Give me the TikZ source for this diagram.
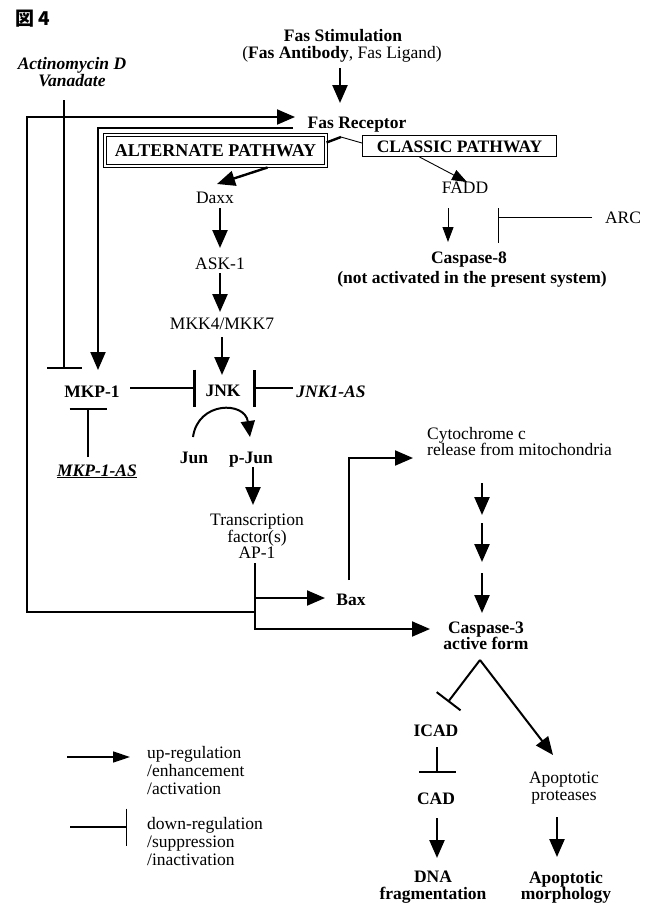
\documentclass[tikz,border=0pt]{standalone}
\usepackage{fontspec}
\setmainfont{Liberation Serif}
\newfontfamily\cjk{Noto Sans CJK JP}
\usetikzlibrary{arrows.meta,calc}
\setlength{\lineskiplimit}{-100pt}
\begin{document}
\begin{tikzpicture}[x=1pt,y=-1pt,
  txt/.style={inner sep=0pt, text height=12pt, text depth=0pt, font=\fontsize{17.5}{16}\selectfont},
  txtb/.style={txt, font=\fontsize{17.5}{16}\selectfont\bfseries},
  txtbi/.style={txt, font=\fontsize{17.5}{16}\selectfont\bfseries\itshape},
  ml/.style={inner sep=0pt, align=center, anchor=north, font=\fontsize{17.5}{16.5}\selectfont},
  mlb/.style={ml, font=\fontsize{17.5}{16.5}\selectfont\bfseries},
  legtxt/.style={inner sep=0pt, align=left, anchor=north west, font=\fontsize{17.5}{18}\selectfont},
  boxalt/.style={draw, double, double distance=1.4pt, line width=1.1pt, inner sep=0pt,
     minimum width=221pt, minimum height=31pt, text height=12pt, text depth=0pt,
     font=\fontsize{18}{16}\selectfont\bfseries},
  boxcl/.style={draw, line width=1.2pt, inner sep=0pt,
     minimum width=194pt, minimum height=21pt, text height=12pt, text depth=0pt,
     font=\fontsize{17.5}{16}\selectfont\bfseries},
  actarr/.style={line width=2.4pt, -{Triangle[length=18pt,width=15pt]}},
  fbarr/.style={line width=2pt, -{Triangle[length=18pt,width=15pt]}},
  inharr/.style={line width=2.4pt, -{Bar[width=37pt]}},
  thinline/.style={line width=0.9pt},
  thinarr/.style={line width=0.9pt, -{Triangle[length=15pt,width=11pt]}},
]
\fill[white] (0,0) rectangle (654,903);
\useasboundingbox (0,0) rectangle (654,903);

% ---------- nodes ----------
\node[inner sep=0pt, font=\cjk\bfseries\fontsize{19}{19}\selectfont] (fig) at (33,19) {図 4};
\node[txtb] (stim) at (343,35) {Fas Stimulation};
\node[txt] (lig) at (342,52) {(\textbf{Fas Antibody}, Fas Ligand)};
\node[ml, font=\fontsize{17.5}{17}\selectfont\bfseries\itshape] (actd) at (72,57) {Actinomycin D\\Vanadate};
\node[txtb] (fasrec) at (357,122) {Fas Receptor};
\node[boxalt] (alt) at (215.5,150.5) {ALTERNATE PATHWAY};
\node[boxcl] (classic) at (459.5,146) {CLASSIC PATHWAY};
\node[txt] (daxx) at (215,197) {Daxx};
\node[txt] (ask) at (220,263) {ASK-1};
\node[txt] (mkk) at (222,323) {MKK4/MKK7};
\node[txtb] (jnk) at (223,390) {JNK};
\node[txtb] (mkp) at (92,391) {MKP-1};
\node[txtbi] (jnkas) at (331,391) {JNK1-AS};
\node[txtbi] (mkpas) at (97,470) {\underline{MKP-1-AS}};
\node[txtb] (jun) at (194,457) {Jun};
\node[txtb] (pjun) at (251,457) {p-Jun};
\node[ml] (tf) at (257,514) {Transcription\\factor(s)\\AP-1};
\node[ml, anchor=north west, align=left, font=\fontsize{17.5}{16}\selectfont] (cyto) at (427,427) {Cytochrome c\\release from mitochondria};
\node[txtb] (bax) at (351,599) {Bax};
\node[mlb, font=\fontsize{17.5}{16}\selectfont\bfseries] (casp3) at (486,622) {Caspase-3\\active form};
\node[txtb] (icad) at (436,730) {ICAD};
\node[txtb] (cad) at (436,798) {CAD};
\node[ml, font=\fontsize{17.5}{17}\selectfont] (aprot) at (564,772) {Apoptotic\\proteases};
\node[mlb] (dna) at (433,871) {DNA\\fragmentation};
\node[mlb] (amorph) at (566,871) {Apoptotic\\morphology};
\node[txt] (fadd) at (465,187) {FADD};
\node[txtb] (casp8) at (469,257) {Caspase-8};
\node[txtb] (notact) at (472,277) {(not activated in the present system)};
\node[txt] (arc) at (623,217) {ARC};
\node[legtxt] (lup) at (147,746) {up-regulation\\/enhancement\\/activation};
\node[legtxt] (ldown) at (147,817) {down-regulation\\/suppression\\/inactivation};

% ---------- coordinates ----------
\coordinate (br) at ($(fasrec)+(-16,15)$);
\coordinate (apex) at ($(casp3.north)+(-6,38)$);
\coordinate (k1) at (482,519);
\coordinate (k2) at (482,567.5);
\coordinate (legA) at ($(lup.north west)+(-80,11)$);
\coordinate (legB) at ($(lup.north west)+(-17,11)$);
\coordinate (legC) at ($(ldown.north west)+(-77,10)$);
\coordinate (legD) at ($(ldown.north west)+(-20,10)$);

% ---------- connectors ----------
\draw[actarr] ($(lig)+(-2,16)$) -- ($(fasrec)+(-17,-19)$);
% Fas receptor branches
\draw[line width=2.4pt] (br) -- ($(alt.east)+(0,-8)$);
\draw[thinline] (br) -- ($(classic.west)+(0,-3)$);
\draw[actarr] ($(alt)+(52,17)$) -- ($(daxx)+(2,-13)$);
\draw[thinarr] ($(classic)+(-40,11)$) -- ($(fadd)+(2,-5)$);
% alternate pathway chain
\draw[actarr] ($(daxx)+(5,11)$) -- ($(ask)+(0,-15)$);
\draw[actarr] ($(ask)+(0,10)$) -- ($(mkk)+(-2,-11)$);
\draw[actarr] ($(mkk)+(0,14)$) -- ($(jnk)+(-1,-15)$);
\draw[line width=2pt, -{Bar[width=37pt,line width=2.8pt]}] ($(mkp)+(38,-3)$) -- ($(jnk)+(-27,-2)$);
\draw[line width=2pt, -{Bar[width=37pt,line width=2.8pt]}] ($(jnkas)+(-38,-3)$) -- ($(jnk)+(30,-2)$);
\draw[inharr] ($(mkpas)+(-9,-13)$) -- ($(mkp)+(-4,17)$);
\draw[line width=2pt, -{Triangle[length=16pt,width=14pt]}] ($(jun)+(-1,-20)$) .. controls (198,401) and (245,401) .. ($(pjun)+(-1,-20)$);
\draw[actarr] ($(pjun)+(2,10)$) -- ($(tf.north)+(-4,-9)$);
% feedback loops
\draw[line width=2pt, -{Bar[width=35pt]}] ($(actd.north)+(-8,43)$) -- ($(mkp)+(-28,-22)$);
\draw[fbarr] ($(fasrec)+(-64,6)$) -| ($(mkp)+(6,-21)$);
\draw[fbarr] ($(tf.north)+(-2,98)$) -- ++(-228,0) |- ($(fasrec)+(-62,-5)$);
\draw[fbarr] ($(tf.north)+(-2,49)$) |- ($(casp3.north)+(-56,7)$);
\draw[fbarr] ($(tf.north)+(-2,84)$) -- ($(bax)+(-26,-1)$);
\draw[fbarr] ($(bax)+(-2,-19)$) |- ($(cyto.north west)+(-14,31)$);
% mitochondrial route
\draw[actarr] ($(cyto.north west)+(55,56)$) -- ($(k1)+(0,-4)$);
\draw[actarr] ($(k1)+(0,4)$) -- ($(k2)+(0,-5.5)$);
\draw[actarr] ($(k2)+(0,5.5)$) -- ($(casp3.north)+(-4,-9)$);
% caspase-3 downstream
\draw[line width=2pt, -{Bar[width=30pt]}] (apex) -- ($(icad)+(12,-28)$);
\draw[line width=2pt, -{Triangle[length=18pt,width=15pt]}] (apex) -- ($(aprot.north)+(-11,-17)$);
\draw[inharr] ($(icad)+(1,17)$) -- ($(cad)+(1,-25)$);
\draw[actarr] ($(cad)+(1,20)$) -- ($(dna.north)+(4,-13)$);
\draw[actarr] ($(aprot.north)+(-7,45)$) -- ($(amorph.north)+(-9,-14)$);
% classic pathway
\draw[thinarr] ($(fadd)+(-17,21)$) -- ($(casp8)+(-21,-15)$);
\draw[thinline] ($(fadd)+(33,21)$) -- ($(casp8)+(29,-14)$);
\draw[thinline] ($(arc)+(-31,0)$) -- ($(fadd)+(33,30)$);
% legend
\draw[line width=1.6pt, -{Triangle[length=17pt,width=11pt]}] (legA) -- (legB);
\draw[line width=1.2pt, -{Bar[width=37pt]}] (legC) -- (legD);
\end{tikzpicture}
\end{document}
